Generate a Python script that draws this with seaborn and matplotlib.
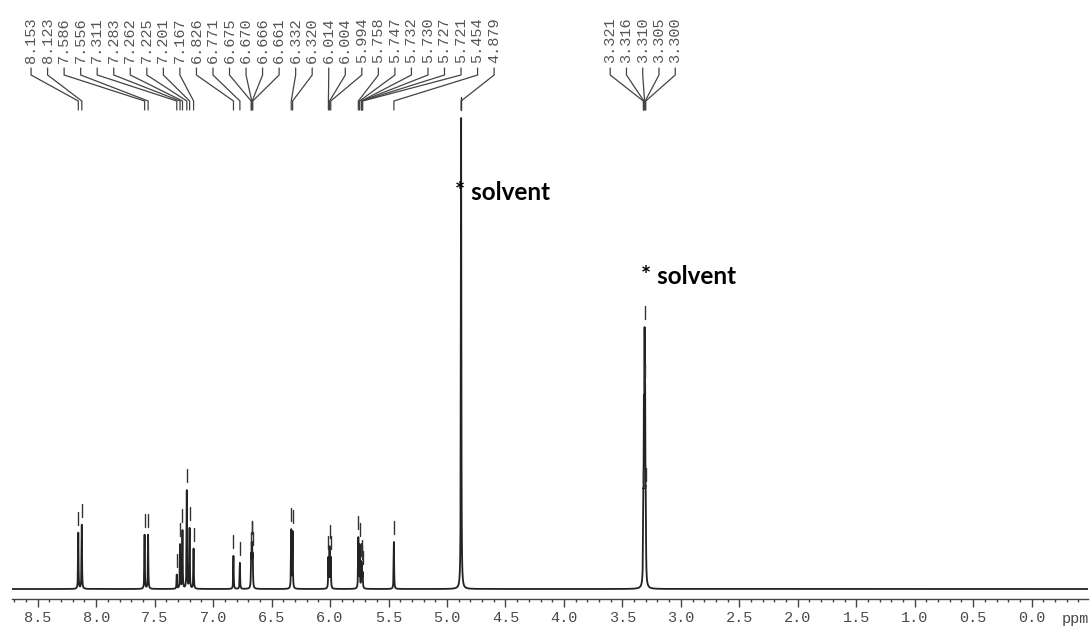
import numpy as np
import pandas as pd
import matplotlib
matplotlib.use("Agg")
import matplotlib.pyplot as plt
from matplotlib.ticker import MultipleLocator, FormatStrFormatter
import seaborn as sns

# Peak-picked chemical shifts (ppm) with their line intensities (baseline = 0)
main_shifts = [8.153, 8.123, 7.586, 7.556, 7.311, 7.283, 7.262, 7.225, 7.201, 7.167,
               6.826, 6.771, 6.675, 6.670, 6.666, 6.661, 6.332, 6.320,
               6.014, 6.004, 5.994, 5.758, 5.747, 5.732, 5.730, 5.727, 5.721,
               5.454, 4.879]
main_intensity = [56, 64, 54, 54, 14, 44, 58, 98, 60, 40,
                  33, 26, 28, 33, 33, 28, 58, 56,
                  30, 40, 30, 50, 42, 14, 14, 12, 14,
                  47, 471]
solvent_shifts = [3.321, 3.316, 3.310, 3.305, 3.300]
solvent_intensity = [62, 152, 214, 152, 62]
solvent_notes = ["* solvent", "* solvent"]
solvent_note_shifts = [4.93, 3.342]
solvent_note_heights = [396, 312]

HWHM = 0.0022  # Lorentzian half width (ppm)
X_LEFT, X_RIGHT = 8.72, -0.482

all_shifts = np.array(main_shifts + solvent_shifts)
all_int = np.array(main_intensity + solvent_intensity, dtype=float)

ppm = np.arange(X_RIGHT, X_LEFT, 0.0002)
ppm = np.unique(np.concatenate([ppm, all_shifts]))
signal = np.zeros_like(ppm)
for c, a in zip(all_shifts, all_int):
    signal += a / (1.0 + ((ppm - c) / HWHM) ** 2)

spec = pd.DataFrame({"ppm": ppm, "intensity": signal})

sns.set_style("white")
fig = plt.figure(figsize=(10.9, 6.28), dpi=100)
ax = fig.add_axes([12 / 1090, 29 / 628, 1076 / 1090, 599 / 628])

sns.lineplot(data=spec, x="ppm", y="intensity", ax=ax, color="#222222",
             linewidth=1.3, estimator=None, sort=False, errorbar=None)

ax.set_xlim(X_LEFT, X_RIGHT)
ax.set_ylim(-10, 589)

for s in ["left", "top", "right"]:
    ax.spines[s].set_visible(False)
ax.spines["bottom"].set_color("#444444")
ax.spines["bottom"].set_linewidth(1.0)

ax.xaxis.set_major_locator(MultipleLocator(0.5))
ax.xaxis.set_minor_locator(MultipleLocator(0.1))
ax.xaxis.set_major_formatter(FormatStrFormatter("%.1f"))
ax.tick_params(axis="x", which="major", direction="out", length=5.5, width=1,
               color="#444444", pad=3.5, labelsize=11, labelcolor="#4a4a4a",
               bottom=True)
ax.tick_params(axis="x", which="minor", direction="out", length=2.5, width=1,
               color="#444444", bottom=True)
for lab in ax.get_xticklabels():
    lab.set_family("Liberation Mono")
ax.set_yticks([])
ax.set_xlabel("")
ax.set_ylabel("")
ax.text(-0.373, -30, "ppm", ha="center", va="center", fontsize=11,
        family="Liberation Mono", color="#4a4a4a", clip_on=False)


def height_at(p):
    return float(np.interp(p, ppm, signal))


def peak_labels(shifts, label_left, label_right):
    xs = np.linspace(label_left, label_right, len(shifts))
    for xl, p in zip(xs, shifts):
        ax.text(xl, 526, f"{p:.3f}", rotation=90, ha="center", va="bottom",
                fontsize=11, family="Liberation Mono", color="#555555")
        ax.plot([xl, xl, p, p], [521, 514, 488, 479], color="#444444",
                linewidth=0.9, solid_joinstyle="miter")
        h = height_at(p)
        ax.plot([p, p], [h + 8, h + 21], color="#333333", linewidth=1.0)


peak_labels(main_shifts, 8.557, 4.597)
peak_labels(solvent_shifts, 3.604, 3.048)

for note, x, y in zip(solvent_notes, solvent_note_shifts, solvent_note_heights):
    ax.text(x, y, note, ha="left", va="center", fontsize=17.5,
            family="Lato", fontweight="bold", color="black")

fig.savefig("out.png", dpi=100, facecolor="white")
